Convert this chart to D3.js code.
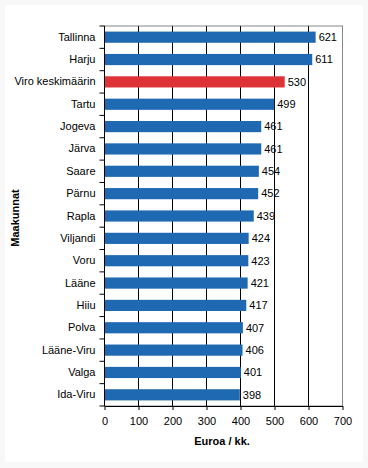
<!DOCTYPE html>
<html>
<head>
<meta charset="utf-8">
<script src="https://cdn.jsdelivr.net/npm/d3@7"></script>
<style>
  body { margin: 0; background: #fff; }
  svg text { font-family: "Liberation Sans", Arial, sans-serif; font-size: 11px; fill: #000; }
  .axis-title { font-weight: bold; }
</style>
</head>
<body>
<svg id="chart"></svg>
<script>
// Chart data
const regions = ['Tallinna', 'Harju', 'Viro keskimäärin', 'Tartu', 'Jogeva', 'Järva', 'Saare', 'Pärnu',
  'Rapla', 'Viljandi', 'Voru', 'Lääne', 'Hiiu', 'Polva', 'Lääne-Viru', 'Valga', 'Ida-Viru'];
const values = [621, 611, 530, 499, 461, 461, 454, 452, 439, 424, 423, 421, 417, 407, 406, 401, 398];
const highlighted = ['Viro keskimäärin'];
const xTicks = [0, 100, 200, 300, 400, 500, 600, 700];

const config = {
  containerWidth: 368,
  containerHeight: 468,
  margin: { top: 26, right: 25.5, bottom: 62, left: 104.5 }
};
const width = config.containerWidth - config.margin.left - config.margin.right;
const height = config.containerHeight - config.margin.top - config.margin.bottom;

const svg = d3.select('#chart')
  .attr('width', config.containerWidth)
  .attr('height', config.containerHeight);

// Faint outer frame like the original export
svg.append('rect')
  .attr('width', config.containerWidth)
  .attr('height', config.containerHeight)
  .attr('fill', '#f8f8f8');
svg.append('rect')
  .attr('x', 5).attr('y', 5)
  .attr('width', config.containerWidth - 10)
  .attr('height', config.containerHeight - 11)
  .attr('fill', '#fff');

const chart = svg.append('g')
  .attr('transform', `translate(${config.margin.left},${config.margin.top})`);

const xScale = d3.scaleLinear().domain([0, 700]).range([0, width]);
const yScale = d3.scaleBand().domain(regions).range([0, height]).paddingInner(0.5).paddingOuter(0.25);

// Plot border (grey top/right)
chart.append('rect')
  .attr('width', width).attr('height', height)
  .attr('fill', 'none')
  .attr('stroke', '#888')
  .attr('stroke-width', 1);

// Vertical grid lines
chart.append('g')
  .selectAll('line')
  .data(xTicks.filter(d => d > 0 && d < 700))
  .join('line')
  .attr('x1', d => xScale(d)).attr('x2', d => xScale(d))
  .attr('y1', 0).attr('y2', height)
  .attr('stroke', '#000');

// Bars
chart.append('g')
  .selectAll('rect')
  .data(regions)
  .join('rect')
  .attr('x', 0)
  .attr('y', d => yScale(d))
  .attr('width', (d, i) => xScale(values[i]))
  .attr('height', yScale.bandwidth())
  .attr('fill', d => highlighted.includes(d) ? '#dd3336' : '#1f69b2');

// Value labels
chart.append('g')
  .selectAll('text')
  .data(regions)
  .join('text')
  .attr('x', (d, i) => xScale(values[i]) + 3)
  .attr('y', d => yScale(d) + yScale.bandwidth() / 2)
  .attr('dy', '0.35em')
  .text((d, i) => values[i]);

// Y axis: labels at band centres, ticks at band boundaries
const yAxisG = chart.append('g')
  .call(d3.axisLeft(yScale).tickSize(0).tickPadding(9));
yAxisG.select('.domain').remove();
yAxisG.selectAll('text').style('font-size', '11px');

chart.append('g')
  .selectAll('line')
  .data(d3.range(regions.length + 1))
  .join('line')
  .attr('x1', -5).attr('x2', 0)
  .attr('y1', i => i * height / regions.length)
  .attr('y2', i => i * height / regions.length)
  .attr('stroke', '#000');
chart.append('line')
  .attr('x1', 0).attr('x2', 0).attr('y1', 0).attr('y2', height)
  .attr('stroke', '#000');

// X axis
const xAxisG = chart.append('g')
  .attr('transform', `translate(0,${height})`)
  .call(d3.axisBottom(xScale).tickValues(xTicks).tickSize(4).tickPadding(7).tickSizeOuter(0));
xAxisG.select('.domain').attr('stroke', '#000');
xAxisG.selectAll('line').attr('stroke', '#000');
xAxisG.selectAll('text').style('font-size', '11px');

// Axis titles
chart.append('text')
  .attr('class', 'axis-title')
  .attr('x', width / 2 - 1.5)
  .attr('y', height + 39)
  .attr('text-anchor', 'middle')
  .text('Euroa / kk.');

chart.append('text')
  .attr('class', 'axis-title')
  .attr('transform', `translate(${-config.margin.left + 19},${height / 2 + 2}) rotate(-90)`)
  .attr('text-anchor', 'middle')
  .text('Maakunnat');
</script>
</body>
</html>
